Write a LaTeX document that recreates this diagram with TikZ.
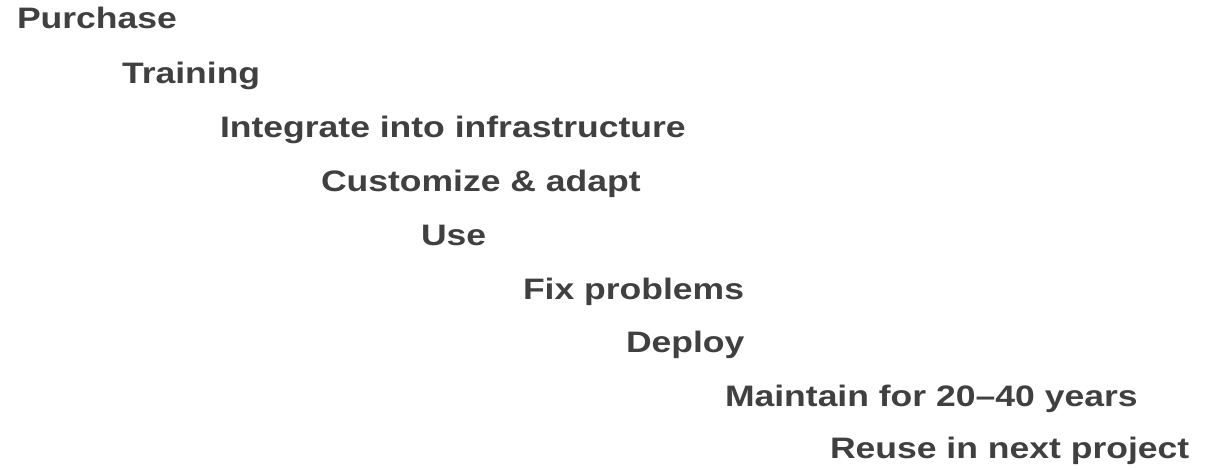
\documentclass[tikz,border=0pt]{standalone}
\usepackage{fontspec}
\setmainfont{Liberation Sans}
\definecolor{txtgray}{HTML}{404040}
\newcommand{\widetext}[1]{\scalebox{1.2}[1]{#1}}
\begin{document}
\begin{tikzpicture}[x=1pt,y=1pt,
  stagetext/.style={anchor=base west, inner sep=0pt, outer sep=0pt, text=txtgray,
    font=\fontsize{29.6}{33}\selectfont\bfseries}]
\path[use as bounding box, fill=white] (0,0) rectangle (1216,-469);
\node[stagetext] (s1) at (17,-28) {\widetext{Purchase}};
\node[stagetext] (s2) at (122,-83) {\widetext{Training}};
\node[stagetext] (s3) at (220,-137) {\widetext{Integrate into infrastructure}};
\node[stagetext] (s4) at (321,-191) {\widetext{Customize \& adapt}};
\node[stagetext] (s5) at (421,-245) {\widetext{Use}};
\node[stagetext] (s6) at (523,-299) {\widetext{Fix problems}};
\node[stagetext] (s7) at (626,-352) {\widetext{Deploy}};
\node[stagetext] (s8) at (725,-406) {\widetext{Maintain for 20–40 years}};
\node[stagetext] (s9) at (830,-458) {\widetext{Reuse in next project}};
\end{tikzpicture}
\end{document}
